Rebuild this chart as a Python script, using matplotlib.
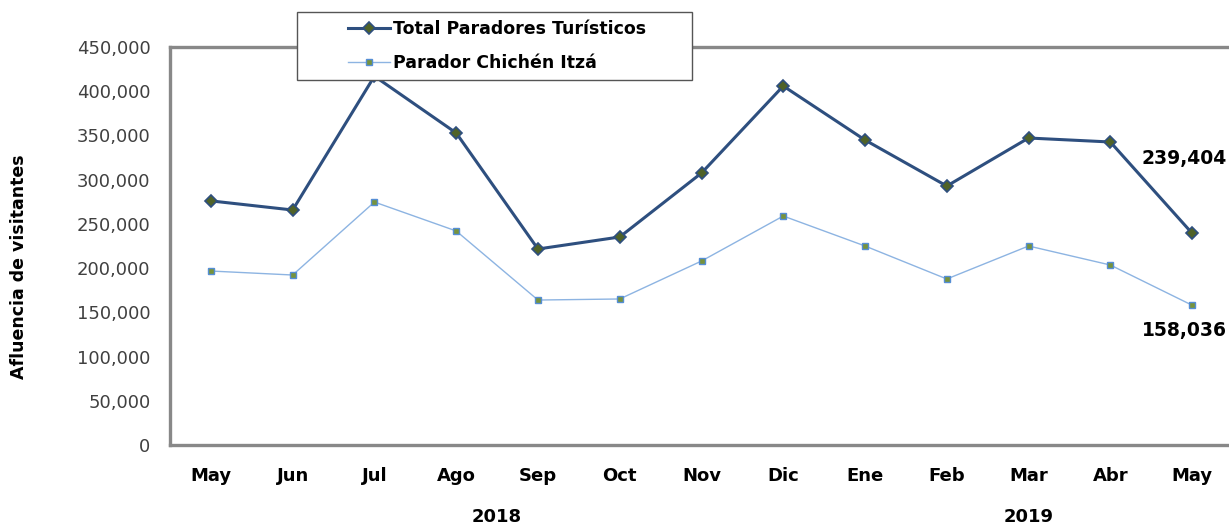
import matplotlib.pyplot as plt
import numpy as np
from matplotlib.patches import Rectangle

plt.rcParams['font.family'] = ['DejaVu Sans']

months = ["May", "Jun", "Jul", "Ago", "Sep", "Oct", "Nov", "Dic",
          "Ene", "Feb", "Mar", "Abr", "May"]
total = [276000, 265700, 417000, 352800, 221600, 235200, 307500,
         405900, 344800, 292800, 347100, 342600, 239404]
chichen = [196700, 192200, 274700, 242000, 163900, 165100, 208000,
           258900, 225000, 187700, 225000, 203500, 158036]
years = ["2018", "2019"]
year_centers = [3.5, 10]

x = np.arange(len(months))

fig = plt.figure(figsize=(12.29, 5.26), dpi=100)
ax = fig.add_axes([170 / 1229, 81 / 526, 1063 / 1229, 398 / 526])

l1, = ax.plot(x, total, "-D", color="#2E4F7F", lw=2.2, ms=6,
              mfc="#4F6228", mec="#2E4F7F", mew=1.2)
l2, = ax.plot(x, chichen, "-s", color="#8DB4E2", lw=1.0, ms=5,
              mfc="#77933C", mec="#558ED5", mew=1.0)

ax.set_xlim(-0.5, len(months) - 0.5)
ax.set_ylim(0, 450000)
ax.set_yticks(np.arange(0, 450001, 50000))
ax.set_yticklabels([f"{v:,}" for v in range(0, 450001, 50000)],
                   fontsize=13, color="#404040")
ax.set_xticks(x)
ax.set_xticklabels(months, fontsize=13, fontweight="bold")
ax.tick_params(length=0)
ax.tick_params(axis="y", pad=14)
ax.tick_params(axis="x", pad=16)

for side in ["left", "bottom", "top"]:
    ax.spines[side].set_color("#888888")
    ax.spines[side].set_linewidth(2.4)
ax.spines["right"].set_visible(False)

ax.set_ylabel("Afluencia de visitantes", fontsize=12.5, fontweight="bold")
ax.yaxis.set_label_coords(-0.1336, 0.447)

for label, c in zip(years, year_centers):
    ax.text(c, -0.18, label, transform=ax.get_xaxis_transform(),
            ha="center", va="center", fontsize=13, fontweight="bold")

ax.annotate(f"{total[-1]:,}", (x[-1], total[-1]), xytext=(25, 54),
            textcoords="offset points", ha="right", va="center",
            fontsize=13.5, fontweight="bold")
ax.annotate(f"{chichen[-1]:,}", (x[-1], chichen[-1]), xytext=(25, -18),
            textcoords="offset points", ha="right", va="center",
            fontsize=13.5, fontweight="bold")

# legend frame drawn separately so the entries sit off-centre like the source
frame = Rectangle((297 / 1229, 1 - 80 / 526), 395 / 1229, 68 / 526,
                  transform=fig.transFigure, facecolor="white",
                  edgecolor="#555555", lw=1.0, zorder=5)
fig.patches.append(frame)
leg = fig.legend([l1, l2], ["Total Paradores Turísticos", "Parador Chichén Itzá"],
                 loc="center left", bbox_to_anchor=(348 / 1229, 1 - 46 / 526),
                 prop={"weight": "bold", "size": 12.5}, frameon=False,
                 handlelength=2.4, handletextpad=0.2, borderpad=0,
                 labelspacing=0.95, borderaxespad=0)
leg.set_zorder(6)

fig.savefig("out.png", dpi=100)
